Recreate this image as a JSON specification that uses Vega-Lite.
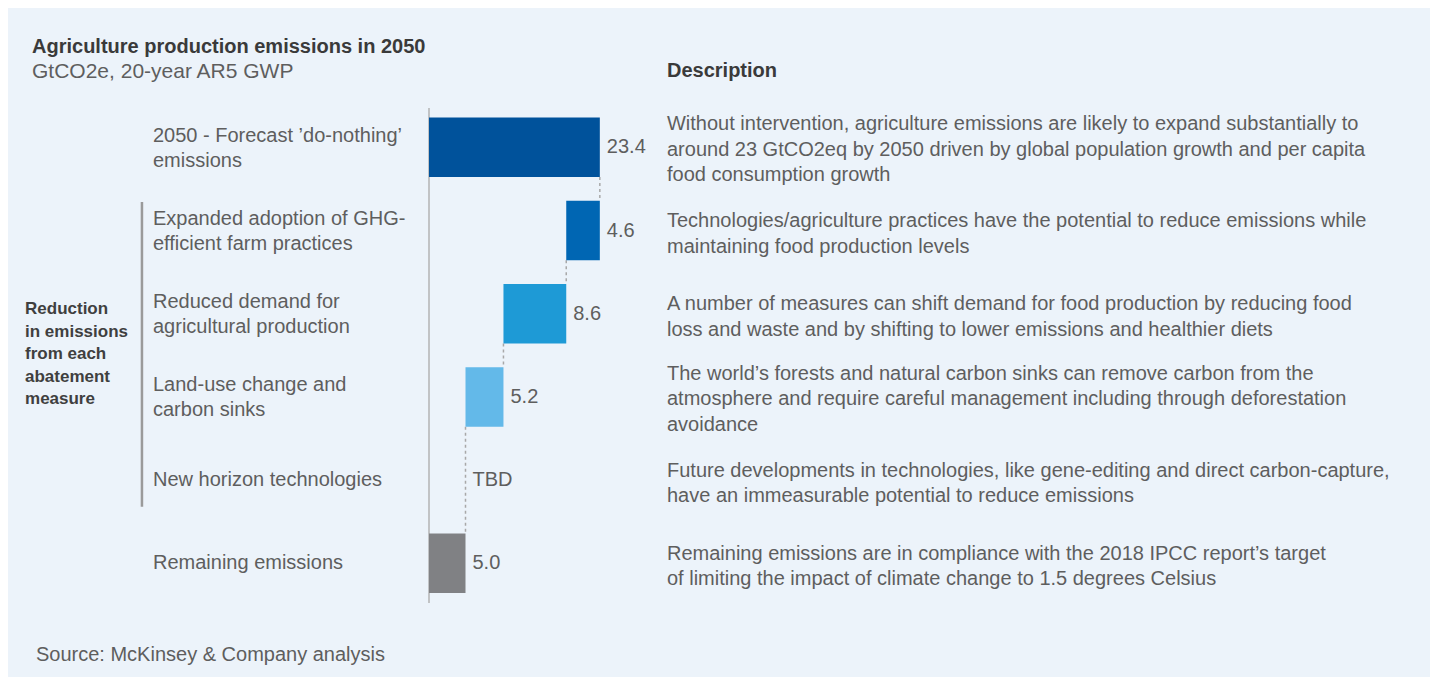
{
  "$schema": "https://vega.github.io/schema/vega-lite/v6.json",
  "autosize": {"type": "none"},
  "width": 1422,
  "height": 669,
  "padding": {"left": 8, "top": 8, "right": 8, "bottom": 0},
  "background": "#ffffff",
  "config": {
    "view": {"fill": "#ecf3fa", "stroke": null},
    "font": "Liberation Sans",
    "text": {"font": "Liberation Sans", "fontSize": 20, "color": "#5e5e5e", "align": "left", "baseline": "middle"}
  },
  "datasets": {
    "rows": [
      {"row": 1, "category": "2050 - Forecast ’do-nothing’\nemissions", "low": 0, "high": 23.4, "value": "23.4", "description": "Without intervention, agriculture emissions are likely to expand substantially to\naround 23 GtCO2eq by 2050 driven by global population growth and per capita\nfood consumption growth"},
      {"row": 2, "category": "Expanded adoption of GHG-\nefficient farm practices", "low": 18.8, "high": 23.4, "value": "4.6", "description": "Technologies/agriculture practices have the potential to reduce emissions while\nmaintaining food production levels"},
      {"row": 3, "category": "Reduced demand for\nagricultural production", "low": 10.2, "high": 18.8, "value": "8.6", "description": "A number of measures can shift demand for food production by reducing food\nloss and waste and by shifting to lower emissions and healthier diets"},
      {"row": 4, "category": "Land-use change and\ncarbon sinks", "low": 5.0, "high": 10.2, "value": "5.2", "description": "The world’s forests and natural carbon sinks can remove carbon from the\natmosphere and require careful management including through deforestation\navoidance"},
      {"row": 5, "category": "New horizon technologies", "low": 5.0, "high": 5.0, "value": "TBD", "description": "Future developments in technologies, like gene-editing and direct carbon-capture,\nhave an immeasurable potential to reduce emissions"},
      {"row": 6, "category": "Remaining emissions", "low": 0, "high": 5.0, "value": "5.0", "description": "Remaining emissions are in compliance with the 2018 IPCC report’s target\nof limiting the impact of climate change to 1.5 degrees Celsius"}
    ],
    "connectors": [
      {"at": 23.4, "from": 1, "to": 2},
      {"at": 18.8, "from": 2, "to": 3},
      {"at": 10.2, "from": 3, "to": 4},
      {"at": 5.0, "from": 4, "to": 6}
    ]
  },
  "layer": [
    {
      "data": {"values": [{}]},
      "mark": {"type": "rule", "color": "#b3b3b3", "strokeWidth": 1.5},
      "encoding": {
        "x": {"datum": 0, "type": "quantitative", "scale": {"domain": [-57.67, 137.12], "nice": false, "zero": false, "padding": 0}, "axis": null},
        "y": {"datum": 0.528, "type": "quantitative", "scale": {"domain": [-0.6743, 7.3666], "nice": false, "zero": false, "reverse": true, "padding": 0}, "axis": null},
        "y2": {"datum": 6.477}
      }
    },
    {
      "data": {"values": [{}]},
      "mark": {"type": "rule", "color": "#9a9a9a", "strokeWidth": 2.5},
      "encoding": {
        "x": {"datum": -39.32, "type": "quantitative"},
        "y": {"datum": 1.657, "type": "quantitative"},
        "y2": {"datum": 5.32}
      }
    },
    {
      "data": {"name": "connectors"},
      "mark": {"type": "rule", "color": "#a8a8a8", "strokeWidth": 1.5, "strokeDash": [3, 3], "yOffset": 29.8, "y2Offset": -29.8},
      "encoding": {
        "x": {"field": "at", "type": "quantitative"},
        "y": {"field": "from", "type": "quantitative"},
        "y2": {"field": "to"}
      }
    },
    {
      "data": {"name": "rows"},
      "transform": [{"filter": "datum.value !== 'TBD'"}],
      "mark": {"type": "bar", "height": 59.5},
      "encoding": {
        "x": {"field": "low", "type": "quantitative"},
        "x2": {"field": "high"},
        "y": {"field": "row", "type": "quantitative"},
        "color": {"field": "row", "type": "ordinal", "scale": {"domain": [1, 2, 3, 4, 6], "range": ["#00529b", "#0066b3", "#1e9ad6", "#63b9e9", "#808184"]}, "legend": null}
      }
    },
    {
      "data": {"name": "rows"},
      "mark": {"type": "text", "dx": 7},
      "encoding": {
        "x": {"field": "high", "type": "quantitative"},
        "y": {"field": "row", "type": "quantitative"},
        "text": {"field": "value", "type": "nominal"}
      }
    },
    {
      "data": {"name": "rows"},
      "transform": [{"filter": "length(split(datum.category, '\\n')) == 2"}],
      "mark": {"type": "text", "lineBreak": "\n", "lineHeight": 25, "dy": -11.5},
      "encoding": {
        "x": {"datum": -37.81, "type": "quantitative"},
        "y": {"field": "row", "type": "quantitative"},
        "text": {"field": "category", "type": "nominal"}
      }
    },
    {
      "data": {"name": "rows"},
      "transform": [{"filter": "length(split(datum.category, '\\n')) == 1"}],
      "mark": {"type": "text"},
      "encoding": {
        "x": {"datum": -37.81, "type": "quantitative"},
        "y": {"field": "row", "type": "quantitative"},
        "text": {"field": "category", "type": "nominal"}
      }
    },
    {
      "data": {"name": "rows"},
      "transform": [{"filter": "length(split(datum.description, '\\n')) == 3"}],
      "mark": {"type": "text", "lineBreak": "\n", "lineHeight": 25.5, "dy": -23},
      "encoding": {
        "x": {"datum": 32.6, "type": "quantitative"},
        "y": {"field": "row", "type": "quantitative"},
        "text": {"field": "description", "type": "nominal"}
      }
    },
    {
      "data": {"name": "rows"},
      "transform": [{"filter": "length(split(datum.description, '\\n')) == 2"}],
      "mark": {"type": "text", "lineBreak": "\n", "lineHeight": 25.5, "dy": -9.5},
      "encoding": {
        "x": {"datum": 32.6, "type": "quantitative"},
        "y": {"field": "row", "type": "quantitative"},
        "text": {"field": "description", "type": "nominal"}
      }
    },
    {
      "data": {"values": [{}]},
      "mark": {"type": "text", "text": "Agriculture production emissions in 2050", "fontWeight": "bold", "color": "#3a3a3a"},
      "encoding": {
        "x": {"datum": -54.38, "type": "quantitative"},
        "y": {"datum": -0.205, "type": "quantitative"}
      }
    },
    {
      "data": {"values": [{}]},
      "mark": {"type": "text", "text": "GtCO2e, 20-year AR5 GWP", "fontSize": 21},
      "encoding": {
        "x": {"datum": -54.38, "type": "quantitative"},
        "y": {"datum": 0.09, "type": "quantitative"}
      }
    },
    {
      "data": {"values": [{}]},
      "mark": {"type": "text", "text": "Description", "fontWeight": "bold", "color": "#3a3a3a"},
      "encoding": {
        "x": {"datum": 32.6, "type": "quantitative"},
        "y": {"datum": 0.085, "type": "quantitative"}
      }
    },
    {
      "data": {"values": [{}]},
      "mark": {"type": "text", "text": "Reduction\nin emissions\nfrom each\nabatement\nmeasure", "lineBreak": "\n", "lineHeight": 22.5, "fontSize": 17, "fontWeight": "bold", "color": "#3f3f3f"},
      "encoding": {
        "x": {"datum": -55.34, "type": "quantitative"},
        "y": {"datum": 2.944, "type": "quantitative"}
      }
    },
    {
      "data": {"values": [{}]},
      "mark": {"type": "text", "text": "Source: McKinsey & Company analysis"},
      "encoding": {
        "x": {"datum": -53.84, "type": "quantitative"},
        "y": {"datum": 7.1, "type": "quantitative"}
      }
    }
  ]
}
